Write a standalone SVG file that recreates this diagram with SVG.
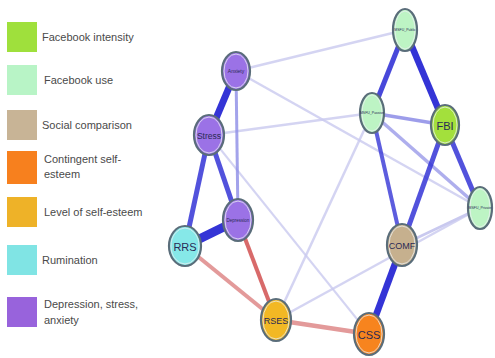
<svg xmlns="http://www.w3.org/2000/svg" width="495" height="358" viewBox="0 0 495 358">
<style>
.lg{font-family:"Liberation Sans","DejaVu Sans",sans-serif;font-size:11px;fill:#4a4a4a}
.nd{stroke:#5a6d7a;stroke-width:2.2}
.in{fill:none;stroke:#e8eef0;stroke-width:0.8}
.nl{font-family:"Liberation Sans","DejaVu Sans",sans-serif;fill:#2a2a55;text-anchor:middle;dominant-baseline:central}
.e{fill:none;stroke-linecap:butt}
.b{stroke:#3434d6}
.p{stroke:#8c8ce6}
.pl{stroke:#c9c9ef}
.r{stroke:#d45a5a}
.rl{stroke:#e39a9a}
</style>
<rect width="495" height="358" fill="#ffffff"/>
<g id="legend">
<rect x="7" y="22" width="30" height="30" fill="#9fe03c"/>
<text class="lg" x="42" y="41">Facebook intensity</text>
<rect x="7" y="65" width="30" height="30" fill="#b8f4c6"/>
<text class="lg" x="44" y="84">Facebook use</text>
<rect x="7" y="110" width="30" height="30" fill="#c8b496"/>
<text class="lg" x="42" y="129">Social comparison</text>
<rect x="7" y="151" width="30" height="33" fill="#f7801e"/>
<text class="lg" x="44" y="163">Contingent self-</text>
<text class="lg" x="44" y="178">esteem</text>
<rect x="7" y="197" width="30" height="30" fill="#eeb228"/>
<text class="lg" x="44" y="216">Level of self-esteem</text>
<rect x="7" y="245" width="30" height="30" fill="#80e4e4"/>
<text class="lg" x="42" y="264">Rumination</text>
<rect x="7" y="297" width="30" height="30" fill="#9863dc"/>
<text class="lg" x="44" y="308">Depression, stress,</text>
<text class="lg" x="44" y="324">anxiety</text>
</g>
<g id="connectors">
<line class="e pl" x1="236" y1="71" x2="405" y2="30" stroke-width="2.5" opacity="0.8"/>
<line class="e pl" x1="236" y1="71" x2="480" y2="208" stroke-width="2.5" opacity="0.8"/>
<line class="e pl" x1="209" y1="135" x2="372" y2="113" stroke-width="2.5" opacity="0.8"/>
<line class="e pl" x1="209" y1="135" x2="369" y2="334" stroke-width="2" opacity="0.8"/>
<line class="e pl" x1="276" y1="320" x2="372" y2="113" stroke-width="2.5" opacity="0.8"/>
<line class="e pl" x1="276" y1="320" x2="480" y2="208" stroke-width="2.5" opacity="0.8"/>
<line class="e pl" x1="402" y1="245" x2="480" y2="208" stroke-width="2.5"/>
<line class="e p" x1="236" y1="71" x2="238" y2="220" stroke-width="3" opacity="0.8"/>
<line class="e p" x1="372" y1="113" x2="445" y2="125" stroke-width="3.5" opacity="0.85"/>
<line class="e p" x1="372" y1="113" x2="480" y2="208" stroke-width="3.5" opacity="0.7"/>
<line class="e b" x1="236" y1="71" x2="209" y2="135" stroke-width="7"/>
<line class="e b" x1="209" y1="135" x2="185" y2="246" stroke-width="5" opacity="0.85"/>
<line class="e b" x1="209" y1="135" x2="238" y2="220" stroke-width="5" opacity="0.85"/>
<line class="e b" x1="185" y1="246" x2="238" y2="220" stroke-width="9"/>
<line class="e rl" x1="185" y1="246" x2="276" y2="320" stroke-width="4"/>
<line class="e r" x1="238" y1="220" x2="276" y2="320" stroke-width="4" opacity="0.9"/>
<line class="e rl" x1="276" y1="320" x2="369" y2="334" stroke-width="4.5"/>
<line class="e b" x1="369" y1="334" x2="402" y2="245" stroke-width="6.5"/>
<line class="e b" x1="402" y1="245" x2="445" y2="125" stroke-width="5" opacity="0.85"/>
<line class="e b" x1="402" y1="245" x2="372" y2="113" stroke-width="4" opacity="0.8"/>
<line class="e b" x1="445" y1="125" x2="405" y2="30" stroke-width="6.5"/>
<line class="e b" x1="405" y1="30" x2="372" y2="113" stroke-width="5" opacity="0.9"/>
<line class="e b" x1="445" y1="125" x2="480" y2="208" stroke-width="5" opacity="0.85"/>
</g>
<g id="anxiety">
<ellipse class="nd" cx="236" cy="71" rx="14" ry="19" fill="#9b72e6"/>
<ellipse class="in" cx="236" cy="71" rx="12" ry="17"/>
<text class="nl" x="236" y="71" font-size="5">Anxiety</text>
</g>
<g id="stress">
<ellipse class="nd" cx="209" cy="135" rx="15" ry="20" fill="#9b72e6"/>
<ellipse class="in" cx="209" cy="135" rx="13" ry="18"/>
<text class="nl" x="209" y="136" font-size="8.5">Stress</text>
</g>
<g id="depression">
<ellipse class="nd" cx="238" cy="220" rx="15" ry="21" fill="#9b72e6"/>
<ellipse class="in" cx="238" cy="220" rx="13" ry="19"/>
<text class="nl" x="238" y="220" font-size="4.5">Depression</text>
</g>
<g id="rrs">
<ellipse class="nd" cx="185" cy="246" rx="16" ry="20" fill="#86e8e8"/>
<ellipse class="in" cx="185" cy="246" rx="14" ry="18"/>
<text class="nl" x="185" y="247" font-size="11">RRS</text>
</g>
<g id="rses">
<ellipse class="nd" cx="276" cy="320" rx="15" ry="21" fill="#f2b824"/>
<ellipse class="in" cx="276" cy="320" rx="13" ry="19"/>
<text class="nl" x="276" y="321" font-size="9">RSES</text>
</g>
<g id="css">
<ellipse class="nd" cx="369" cy="334" rx="15" ry="21" fill="#f7841e"/>
<ellipse class="in" cx="369" cy="334" rx="13" ry="19"/>
<text class="nl" x="369" y="335" font-size="11">CSS</text>
</g>
<g id="comf">
<ellipse class="nd" cx="402" cy="245" rx="15" ry="21" fill="#c6b08e"/>
<ellipse class="in" cx="402" cy="245" rx="13" ry="19"/>
<text class="nl" x="402" y="246" font-size="9">COMF</text>
</g>
<g id="fbi">
<ellipse class="nd" cx="445" cy="125" rx="14" ry="20" fill="#a3e03c"/>
<ellipse class="in" cx="445" cy="125" rx="12" ry="18"/>
<text class="nl" x="445" y="126" font-size="11">FBI</text>
</g>
<g id="msfu-public">
<ellipse class="nd" cx="405" cy="30" rx="12" ry="21" fill="#bdf4c4"/>
<ellipse class="in" cx="405" cy="30" rx="10" ry="19"/>
<text class="nl" x="405" y="30" font-size="3.5">MSFU_Public</text>
</g>
<g id="msfu-passive">
<ellipse class="nd" cx="372" cy="113" rx="12" ry="20" fill="#bdf4c4"/>
<ellipse class="in" cx="372" cy="113" rx="10" ry="18"/>
<text class="nl" x="372" y="113" font-size="3.5">MSFU_Passive</text>
</g>
<g id="msfu-private">
<ellipse class="nd" cx="480" cy="208" rx="12" ry="21" fill="#bdf4c4"/>
<ellipse class="in" cx="480" cy="208" rx="10" ry="19"/>
<text class="nl" x="480" y="208" font-size="3.5">MSFU_Private</text>
</g>
</svg>
